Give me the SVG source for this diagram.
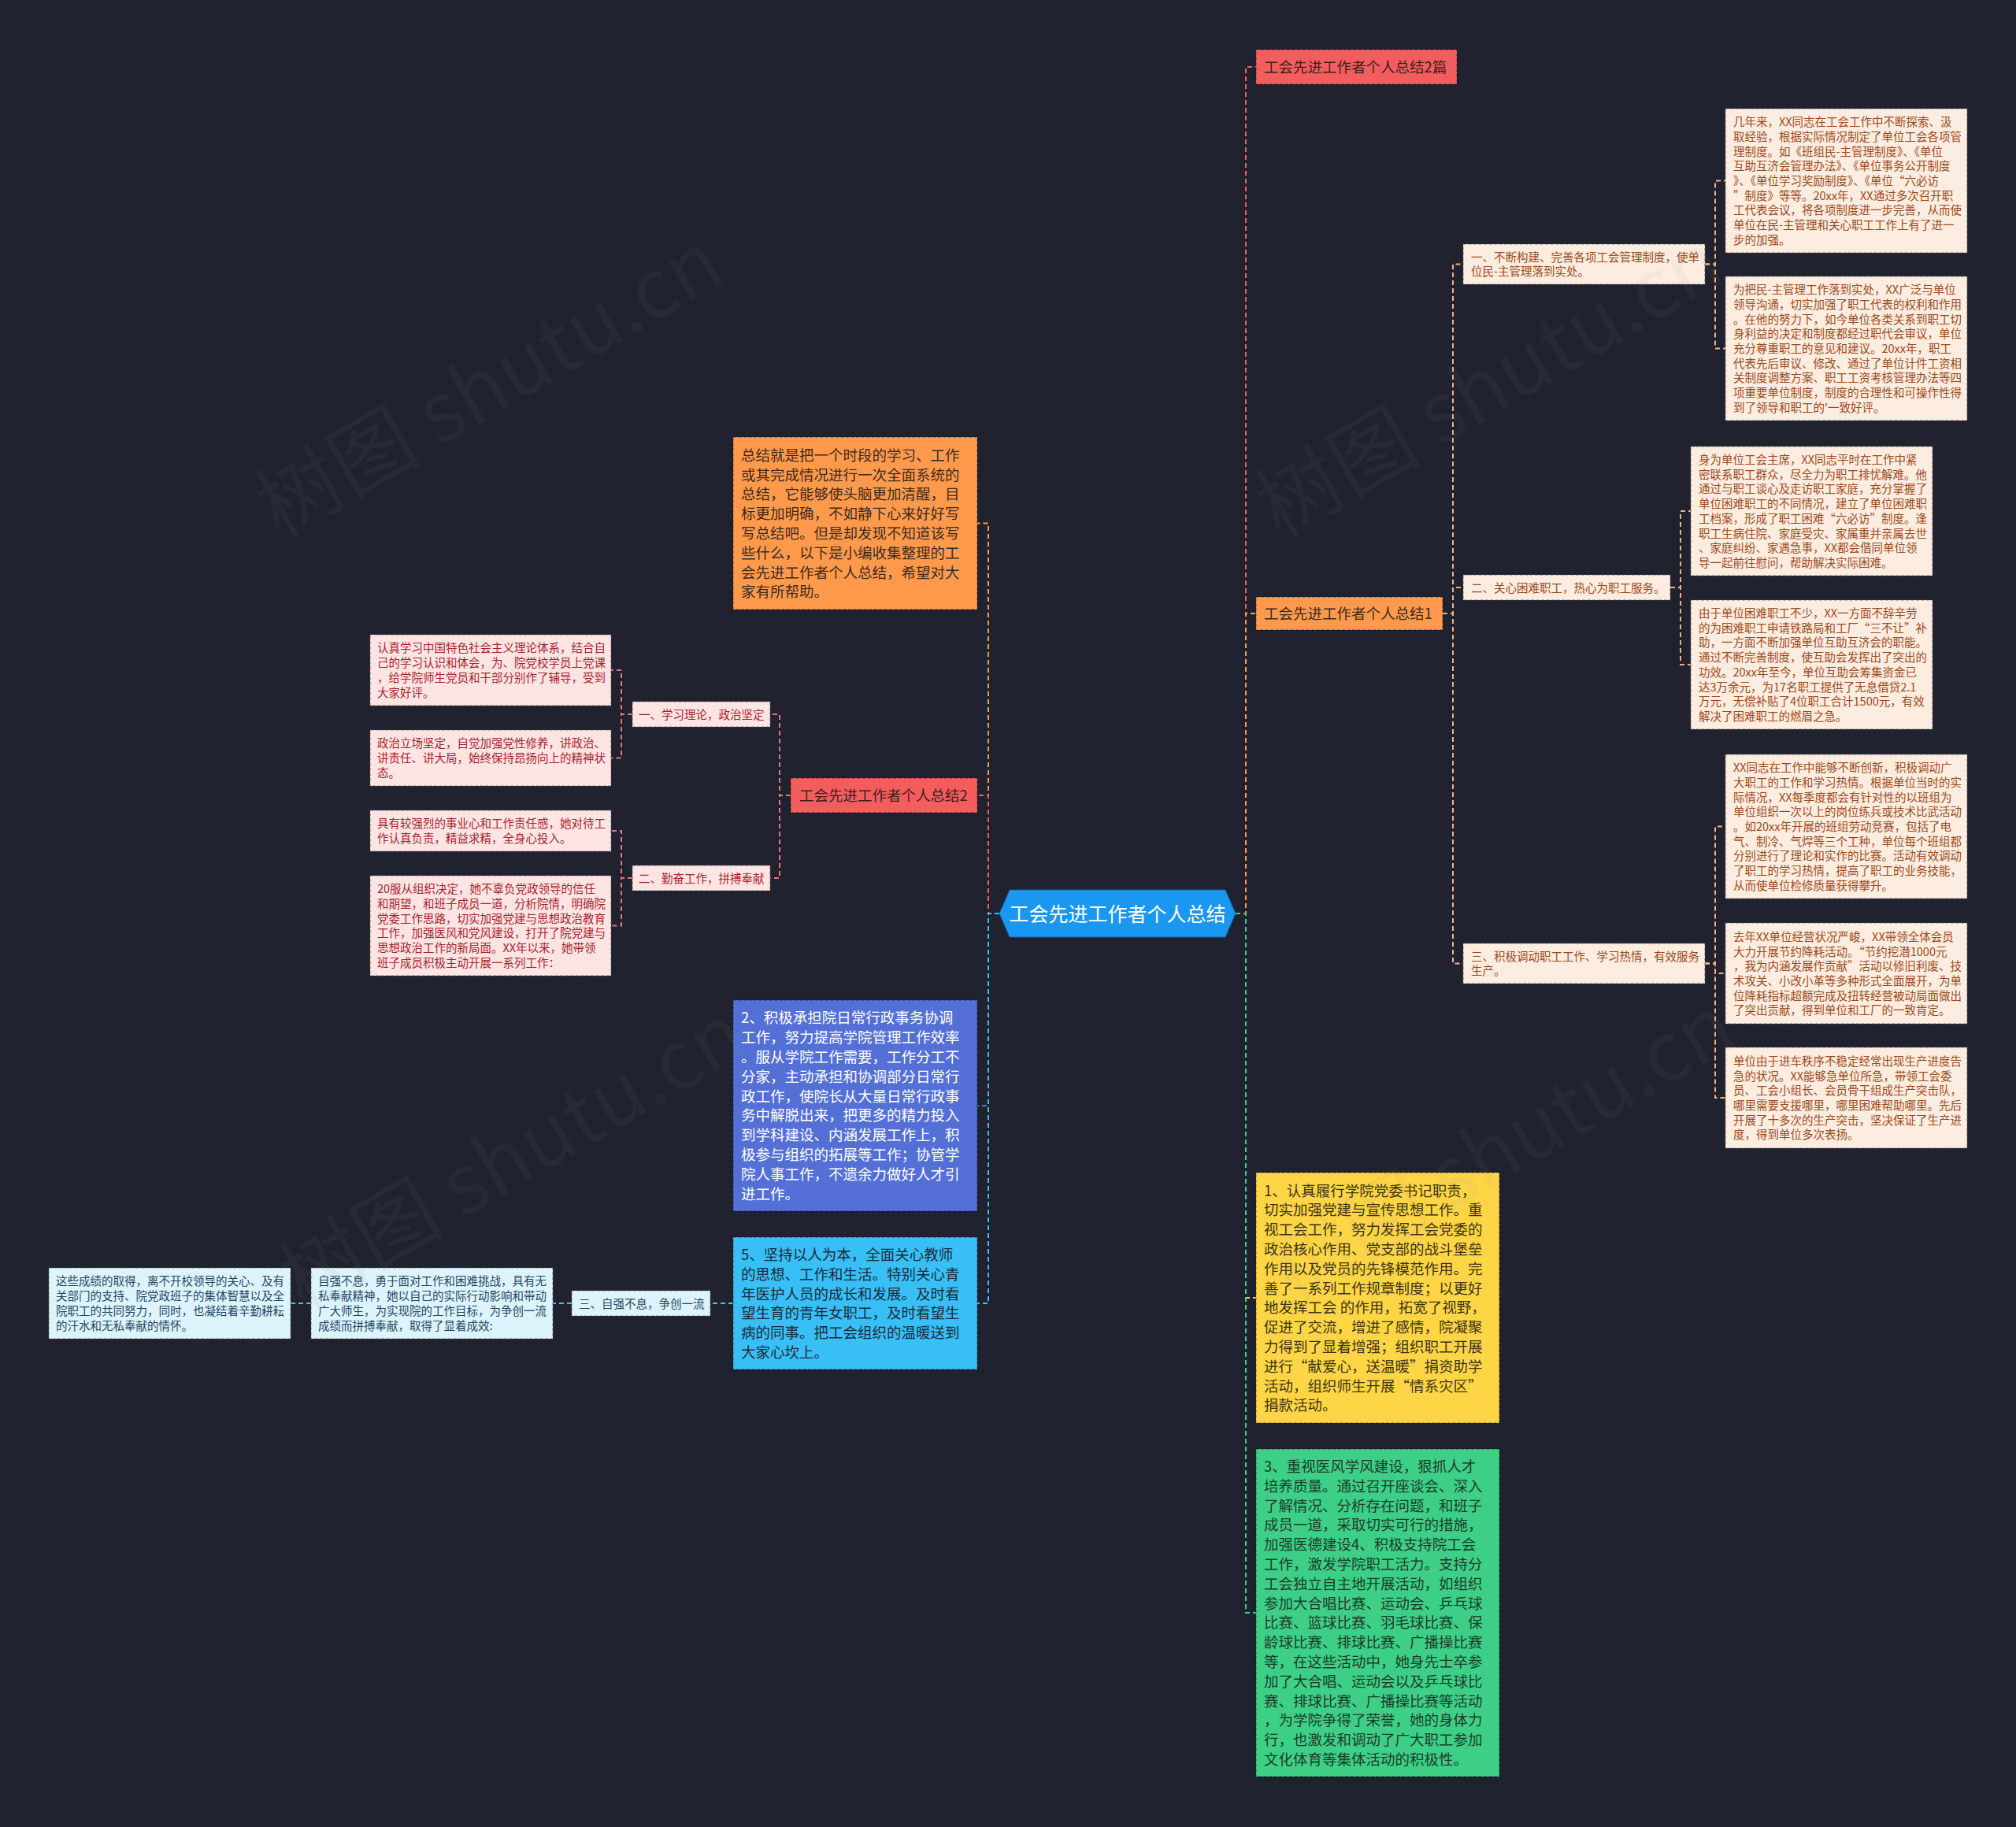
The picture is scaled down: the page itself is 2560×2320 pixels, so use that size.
<svg xmlns="http://www.w3.org/2000/svg" width="2560" height="2320" viewBox="0 0 2560 2320">
<style>
text{font-family:'Noto Sans CJK SC','Noto Sans',sans-serif;}
.ts{font-size:14.5px;}
.tb{font-size:18.5px;}
.bx{stroke:#000;stroke-opacity:.35;stroke-width:1.3;stroke-dasharray:4 2.5;}
.lx{stroke:#555;stroke-opacity:.7;stroke-width:1.2;stroke-dasharray:4 2.5;}
.peach{fill:#fdece0;}
.peach-t{fill:#9c4a1a;}
.pink{fill:#ffe4e4;}
.pink-t{fill:#a8232d;}
.sky{fill:#def4fc;}
.sky-t{fill:#1e4664;}
.c{fill:none;stroke-width:2;stroke-dasharray:6 4;}
.wm{font-size:105px;fill:#8a8a8a;fill-opacity:.07;text-anchor:middle;}
</style>
<rect width="2560" height="2320" fill="#20222f"/>

<g id="connectors">
<path class="c" stroke="#f45d5d" d="M1569 1160H1582V85H1595"/>
<path class="c" stroke="#ff9a4d" d="M1569 1160H1582V779H1595"/>
<path class="c" stroke="#fed545" d="M1569 1160H1582V1648H1595"/>
<path class="c" stroke="#3ecf86" d="M1569 1160H1582V2048H1595"/>
<path class="c" stroke="#ff9a4d" d="M1269 1160H1255V664.5H1241"/>
<path class="c" stroke="#f45d5d" d="M1269 1160H1255V1010H1241"/>
<path class="c" stroke="#5470d6" d="M1269 1160H1255V1404H1241"/>
<path class="c" stroke="#38bff5" d="M1269 1160H1255V1655H1241"/>
<g stroke="#f3b07e">
<path class="c" d="M1832 779H1845V335.5H1858"/>
<path class="c" d="M1832 779H1845V746H1858"/>
<path class="c" d="M1832 779H1845V1223.5H1858"/>
<path class="c" d="M2165 335.5H2178V229.5H2191"/>
<path class="c" d="M2165 335.5H2178V442.5H2191"/>
<path class="c" d="M2121 746H2134V649H2147"/>
<path class="c" d="M2121 746H2134V844H2147"/>
<path class="c" d="M2165 1223.5H2178V1049.5H2191"/>
<path class="c" d="M2165 1223.5H2178V1236H2191"/>
<path class="c" d="M2165 1223.5H2178V1394H2191"/>
</g>
<g stroke="#e8737b">
<path class="c" d="M1004 1010H990V907H978"/>
<path class="c" d="M1004 1010H990V1115H978"/>
<path class="c" d="M803 907H789V851H776"/>
<path class="c" d="M803 907H789V962.5H776"/>
<path class="c" d="M803 1115H789V1055H776"/>
<path class="c" d="M803 1115H789V1175.5H776"/>
</g>
<g stroke="#5ab8e4">
<path class="c" d="M931 1655H902"/>
<path class="c" d="M726 1655H702"/>
<path class="c" d="M395 1655H369"/>
</g>
</g>

<g id="root">
<polygon points="1269,1160 1282,1130 1556,1130 1569,1160 1556,1190 1282,1190" fill="#1a97f0" stroke="#0f5fa8" stroke-width="1"/>
<text x="1419" y="1169.5" font-size="25" fill="#fff" text-anchor="middle">工会先进工作者个人总结</text>
</g>

<g id="n-2pian">
<rect class="bx" x="1595" y="63" width="255" height="44" fill="#f45d5d"/>
<text class="tb" x="1605" y="92" fill="#3d1f1f">工会先进工作者个人总结2篇</text>
</g>

<g id="n-zj1">
<rect class="bx" x="1595" y="758" width="237" height="42" fill="#ff9a4d"/>
<text class="tb" x="1605" y="786" fill="#3b2a1d">工会先进工作者个人总结1</text>
</g>

<g id="n-s1">
<rect class="lx peach" x="1858" y="310" width="307" height="51"/>
<text class="ts peach-t" x="1868" y="331.6">一、不断构建、完善各项工会管理制度，使单<tspan x="1868" dy="18.7">位民-主管理落到实处。</tspan></text>
</g>
<g id="n-s2">
<rect class="lx peach" x="1858" y="730" width="263" height="32"/>
<text class="ts peach-t" x="1868" y="751.5">二、关心困难职工，热心为职工服务。</text>
</g>
<g id="n-s3">
<rect class="lx peach" x="1858" y="1198" width="307" height="51"/>
<text class="ts peach-t" x="1868" y="1219.6">三、积极调动职工工作、学习热情，有效服务<tspan x="1868" dy="18.7">生产。</tspan></text>
</g>

<g id="n-a1">
<rect class="lx peach" x="2191" y="138" width="307" height="183"/>
<text class="ts peach-t" x="2201" y="160.2">几年来，XX同志在工会工作中不断探索、汲<tspan x="2201" dy="18.7">取经验，根据实际情况制定了单位工会各项管</tspan><tspan x="2201" dy="18.7">理制度。如《班组民-主管理制度》、《单位</tspan><tspan x="2201" dy="18.7">互助互济会管理办法》、《单位事务公开制度</tspan><tspan x="2201" dy="18.7">》、《单位学习奖励制度》、《单位“六必访</tspan><tspan x="2201" dy="18.7">”制度》等等。20xx年，XX通过多次召开职</tspan><tspan x="2201" dy="18.7">工代表会议，将各项制度进一步完善，从而使</tspan><tspan x="2201" dy="18.7">单位在民-主管理和关心职工工作上有了进一</tspan><tspan x="2201" dy="18.7">步的加强。</tspan></text>
</g>
<g id="n-a2">
<rect class="lx peach" x="2191" y="351" width="307" height="183"/>
<text class="ts peach-t" x="2201" y="373.2">为把民-主管理工作落到实处，XX广泛与单位<tspan x="2201" dy="18.7">领导沟通，切实加强了职工代表的权利和作用</tspan><tspan x="2201" dy="18.7">。在他的努力下，如今单位各类关系到职工切</tspan><tspan x="2201" dy="18.7">身利益的决定和制度都经过职代会审议，单位</tspan><tspan x="2201" dy="18.7">充分尊重职工的意见和建议。20xx年，职工</tspan><tspan x="2201" dy="18.7">代表先后审议、修改、通过了单位计件工资相</tspan><tspan x="2201" dy="18.7">关制度调整方案、职工工资考核管理办法等四</tspan><tspan x="2201" dy="18.7">项重要单位制度，制度的合理性和可操作性得</tspan><tspan x="2201" dy="18.7">到了领导和职工的'一致好评。</tspan></text>
</g>
<g id="n-b1">
<rect class="lx peach" x="2147" y="567" width="307" height="164"/>
<text class="ts peach-t" x="2157" y="589">身为单位工会主席，XX同志平时在工作中紧<tspan x="2157" dy="18.7">密联系职工群众，尽全力为职工排忧解难。他</tspan><tspan x="2157" dy="18.7">通过与职工谈心及走访职工家庭，充分掌握了</tspan><tspan x="2157" dy="18.7">单位困难职工的不同情况，建立了单位困难职</tspan><tspan x="2157" dy="18.7">工档案，形成了职工困难“六必访”制度。逢</tspan><tspan x="2157" dy="18.7">职工生病住院、家庭受灾、家属重并亲属去世</tspan><tspan x="2157" dy="18.7">、家庭纠纷、家遇急事，XX都会偕同单位领</tspan><tspan x="2157" dy="18.7">导一起前往慰问，帮助解决实际困难。</tspan></text>
</g>
<g id="n-b2">
<rect class="lx peach" x="2147" y="762" width="307" height="164"/>
<text class="ts peach-t" x="2157" y="784">由于单位困难职工不少，XX一方面不辞辛劳<tspan x="2157" dy="18.7">的为困难职工申请铁路局和工厂“三不让”补</tspan><tspan x="2157" dy="18.7">助，一方面不断加强单位互助互济会的职能。</tspan><tspan x="2157" dy="18.7">通过不断完善制度，使互助会发挥出了突出的</tspan><tspan x="2157" dy="18.7">功效。20xx年至今，单位互助会筹集资金已</tspan><tspan x="2157" dy="18.7">达3万余元，为17名职工提供了无息借贷2.1</tspan><tspan x="2157" dy="18.7">万元，无偿补贴了4位职工合计1500元，有效</tspan><tspan x="2157" dy="18.7">解决了困难职工的燃眉之急。</tspan></text>
</g>
<g id="n-c1">
<rect class="lx peach" x="2191" y="958" width="307" height="183"/>
<text class="ts peach-t" x="2201" y="980.2">XX同志在工作中能够不断创新，积极调动广<tspan x="2201" dy="18.7">大职工的工作和学习热情。根据单位当时的实</tspan><tspan x="2201" dy="18.7">际情况，XX每季度都会有针对性的以班组为</tspan><tspan x="2201" dy="18.7">单位组织一次以上的岗位练兵或技术比武活动</tspan><tspan x="2201" dy="18.7">。如20xx年开展的班组劳动竞赛，包括了电</tspan><tspan x="2201" dy="18.7">气、制冷、气焊等三个工种，单位每个班组都</tspan><tspan x="2201" dy="18.7">分别进行了理论和实作的比赛。活动有效调动</tspan><tspan x="2201" dy="18.7">了职工的学习热情，提高了职工的业务技能，</tspan><tspan x="2201" dy="18.7">从而使单位检修质量获得攀升。</tspan></text>
</g>
<g id="n-c2">
<rect class="lx peach" x="2191" y="1172" width="307" height="128"/>
<text class="ts peach-t" x="2201" y="1194.8">去年XX单位经营状况严峻，XX带领全体会员<tspan x="2201" dy="18.7">大力开展节约降耗活动。“节约挖潜1000元</tspan><tspan x="2201" dy="18.7">，我为内涵发展作贡献”活动以修旧利废、技</tspan><tspan x="2201" dy="18.7">术攻关、小改小革等多种形式全面展开，为单</tspan><tspan x="2201" dy="18.7">位降耗指标超额完成及扭转经营被动局面做出</tspan><tspan x="2201" dy="18.7">了突出贡献，得到单位和工厂的一致肯定。</tspan></text>
</g>
<g id="n-c3">
<rect class="lx peach" x="2191" y="1330" width="307" height="128"/>
<text class="ts peach-t" x="2201" y="1352.8">单位由于进车秩序不稳定经常出现生产进度告<tspan x="2201" dy="18.7">急的状况。XX能够急单位所急，带领工会委</tspan><tspan x="2201" dy="18.7">员、工会小组长、会员骨干组成生产突击队，</tspan><tspan x="2201" dy="18.7">哪里需要支援哪里，哪里困难帮助哪里。先后</tspan><tspan x="2201" dy="18.7">开展了十多次的生产突击，坚决保证了生产进</tspan><tspan x="2201" dy="18.7">度，得到单位多次表扬。</tspan></text>
</g>

<g id="n-yellow">
<rect class="bx" x="1595" y="1489" width="309" height="318" fill="#fed545"/>
<text class="tb" x="1605" y="1518.6" fill="#3a3414">1、认真履行学院党委书记职责，<tspan x="1605" dy="24.8">切实加强党建与宣传思想工作。重</tspan><tspan x="1605" dy="24.8">视工会工作，努力发挥工会党委的</tspan><tspan x="1605" dy="24.8">政治核心作用、党支部的战斗堡垒</tspan><tspan x="1605" dy="24.8">作用以及党员的先锋模范作用。完</tspan><tspan x="1605" dy="24.8">善了一系列工作规章制度；以更好</tspan><tspan x="1605" dy="24.8">地发挥工会 的作用，拓宽了视野，</tspan><tspan x="1605" dy="24.8">促进了交流，增进了感情，院凝聚</tspan><tspan x="1605" dy="24.8">力得到了显着增强；组织职工开展</tspan><tspan x="1605" dy="24.8">进行“献爱心，送温暖”捐资助学</tspan><tspan x="1605" dy="24.8">活动，组织师生开展“情系灾区”</tspan><tspan x="1605" dy="24.8">捐款活动。</tspan></text>
</g>
<g id="n-green">
<rect class="bx" x="1595" y="1840" width="309" height="416" fill="#3ecf86"/>
<text class="tb" x="1605" y="1869" fill="#1c3b2b">3、重视医风学风建设，狠抓人才<tspan x="1605" dy="24.8">培养质量。通过召开座谈会、深入</tspan><tspan x="1605" dy="24.8">了解情况、分析存在问题，和班子</tspan><tspan x="1605" dy="24.8">成员一道，采取切实可行的措施，</tspan><tspan x="1605" dy="24.8">加强医德建设4、积极支持院工会</tspan><tspan x="1605" dy="24.8">工作，激发学院职工活力。支持分</tspan><tspan x="1605" dy="24.8">工会独立自主地开展活动，如组织</tspan><tspan x="1605" dy="24.8">参加大合唱比赛、运动会、乒乓球</tspan><tspan x="1605" dy="24.8">比赛、篮球比赛、羽毛球比赛、保</tspan><tspan x="1605" dy="24.8">龄球比赛、排球比赛、广播操比赛</tspan><tspan x="1605" dy="24.8">等，在这些活动中，她身先士卒参</tspan><tspan x="1605" dy="24.8">加了大合唱、运动会以及乒乓球比</tspan><tspan x="1605" dy="24.8">赛、排球比赛、广播操比赛等活动</tspan><tspan x="1605" dy="24.8">，为学院争得了荣誉，她的身体力</tspan><tspan x="1605" dy="24.8">行，也激发和调动了广大职工参加</tspan><tspan x="1605" dy="24.8">文化体育等集体活动的积极性。</tspan></text>
</g>

<g id="n-intro">
<rect class="bx" x="931" y="555" width="310" height="219" fill="#ff9a4d"/>
<text class="tb" x="941" y="584.7" fill="#3b2a1d">总结就是把一个时段的学习、工作<tspan x="941" dy="24.8">或其完成情况进行一次全面系统的</tspan><tspan x="941" dy="24.8">总结，它能够使头脑更加清醒，目</tspan><tspan x="941" dy="24.8">标更加明确，不如静下心来好好写</tspan><tspan x="941" dy="24.8">写总结吧。但是却发现不知道该写</tspan><tspan x="941" dy="24.8">些什么，以下是小编收集整理的工</tspan><tspan x="941" dy="24.8">会先进工作者个人总结，希望对大</tspan><tspan x="941" dy="24.8">家有所帮助。</tspan></text>
</g>

<g id="n-zj2">
<rect class="bx" x="1004" y="988" width="237" height="44" fill="#f45d5d"/>
<text class="tb" x="1015" y="1017" fill="#3d1f1f">工会先进工作者个人总结2</text>
</g>

<g id="n-d1">
<rect class="lx pink" x="803" y="891" width="175" height="32"/>
<text class="ts pink-t" x="811" y="912.5">一、学习理论，政治坚定</text>
</g>
<g id="n-d2">
<rect class="lx pink" x="803" y="1099" width="175" height="32"/>
<text class="ts pink-t" x="811" y="1120.5">二、勤奋工作，拼搏奉献</text>
</g>
<g id="n-l1">
<rect class="lx pink" x="470" y="806" width="306" height="90"/>
<text class="ts pink-t" x="479" y="828.4">认真学习中国特色社会主义理论体系，结合自<tspan x="479" dy="18.7">己的学习认识和体会，为、院党校学员上党课</tspan><tspan x="479" dy="18.7">，给学院师生党员和干部分别作了辅导，受到</tspan><tspan x="479" dy="18.7">大家好评。</tspan></text>
</g>
<g id="n-l2">
<rect class="lx pink" x="470" y="927" width="306" height="71"/>
<text class="ts pink-t" x="479" y="949.3">政治立场坚定，自觉加强党性修养，讲政治、<tspan x="479" dy="18.7">讲责任、讲大局，始终保持昂扬向上的精神状</tspan><tspan x="479" dy="18.7">态。</tspan></text>
</g>
<g id="n-l3">
<rect class="lx pink" x="470" y="1029" width="306" height="52"/>
<text class="ts pink-t" x="479" y="1051.2">具有较强烈的事业心和工作责任感，她对待工<tspan x="479" dy="18.7">作认真负责，精益求精，全身心投入。</tspan></text>
</g>
<g id="n-l4">
<rect class="lx pink" x="470" y="1112" width="306" height="127"/>
<text class="ts pink-t" x="479" y="1134.3">20服从组织决定，她不辜负党政领导的信任<tspan x="479" dy="18.7">和期望，和班子成员一道，分析院情，明确院</tspan><tspan x="479" dy="18.7">党委工作思路，切实加强党建与思想政治教育</tspan><tspan x="479" dy="18.7">工作，加强医风和党风建设，打开了院党建与</tspan><tspan x="479" dy="18.7">思想政治工作的新局面。XX年以来，她带领</tspan><tspan x="479" dy="18.7">班子成员积极主动开展一系列工作：</tspan></text>
</g>

<g id="n-blue">
<rect class="bx" x="931" y="1270" width="310" height="268" fill="#5470d6"/>
<text class="tb" x="941" y="1299.4" fill="#ffffff">2、积极承担院日常行政事务协调<tspan x="941" dy="24.8">工作，努力提高学院管理工作效率</tspan><tspan x="941" dy="24.8">。服从学院工作需要，工作分工不</tspan><tspan x="941" dy="24.8">分家，主动承担和协调部分日常行</tspan><tspan x="941" dy="24.8">政工作，使院长从大量日常行政事</tspan><tspan x="941" dy="24.8">务中解脱出来，把更多的精力投入</tspan><tspan x="941" dy="24.8">到学科建设、内涵发展工作上，积</tspan><tspan x="941" dy="24.8">极参与组织的拓展等工作；协管学</tspan><tspan x="941" dy="24.8">院人事工作，不遗余力做好人才引</tspan><tspan x="941" dy="24.8">进工作。</tspan></text>
</g>

<g id="n-cyan">
<rect class="bx" x="931" y="1571" width="310" height="168" fill="#38bff5"/>
<text class="tb" x="941" y="1600" fill="#1b2b3b">5、坚持以人为本，全面关心教师<tspan x="941" dy="24.8">的思想、工作和生活。特别关心青</tspan><tspan x="941" dy="24.8">年医护人员的成长和发展。及时看</tspan><tspan x="941" dy="24.8">望生育的青年女职工，及时看望生</tspan><tspan x="941" dy="24.8">病的同事。把工会组织的温暖送到</tspan><tspan x="941" dy="24.8">大家心坎上。</tspan></text>
</g>
<g id="n-e1">
<rect class="lx sky" x="726" y="1639" width="176" height="32"/>
<text class="ts sky-t" x="735" y="1660.5">三、自强不息，争创一流</text>
</g>
<g id="n-e2">
<rect class="lx sky" x="395" y="1610" width="307" height="90"/>
<text class="ts sky-t" x="404" y="1632.4">自强不息，勇于面对工作和困难挑战，具有无<tspan x="404" dy="18.7">私奉献精神，她以自己的实际行动影响和带动</tspan><tspan x="404" dy="18.7">广大师生，为实现院的工作目标，为争创一流</tspan><tspan x="404" dy="18.7">成绩而拼搏奉献，取得了显着成效:</tspan></text>
</g>
<g id="n-e3">
<rect class="lx sky" x="62" y="1610" width="307" height="90"/>
<text class="ts sky-t" x="71" y="1632.4">这些成绩的取得，离不开校领导的关心、及有<tspan x="71" dy="18.7">关部门的支持、院党政班子的集体智慧以及全</tspan><tspan x="71" dy="18.7">院职工的共同努力，同时，也凝结着辛勤耕耘</tspan><tspan x="71" dy="18.7">的汗水和无私奉献的情怀。</tspan></text>
</g>

<g id="watermark">
<text class="wm" transform="translate(640 520) rotate(-30)">树图 shutu.cn</text>
<text class="wm" transform="translate(1910 520) rotate(-30)">树图 shutu.cn</text>
<text class="wm" transform="translate(670 1500) rotate(-30)">树图 shutu.cn</text>
<text class="wm" transform="translate(1925 1490) rotate(-30)">树图 shutu.cn</text>
</g>
</svg>
